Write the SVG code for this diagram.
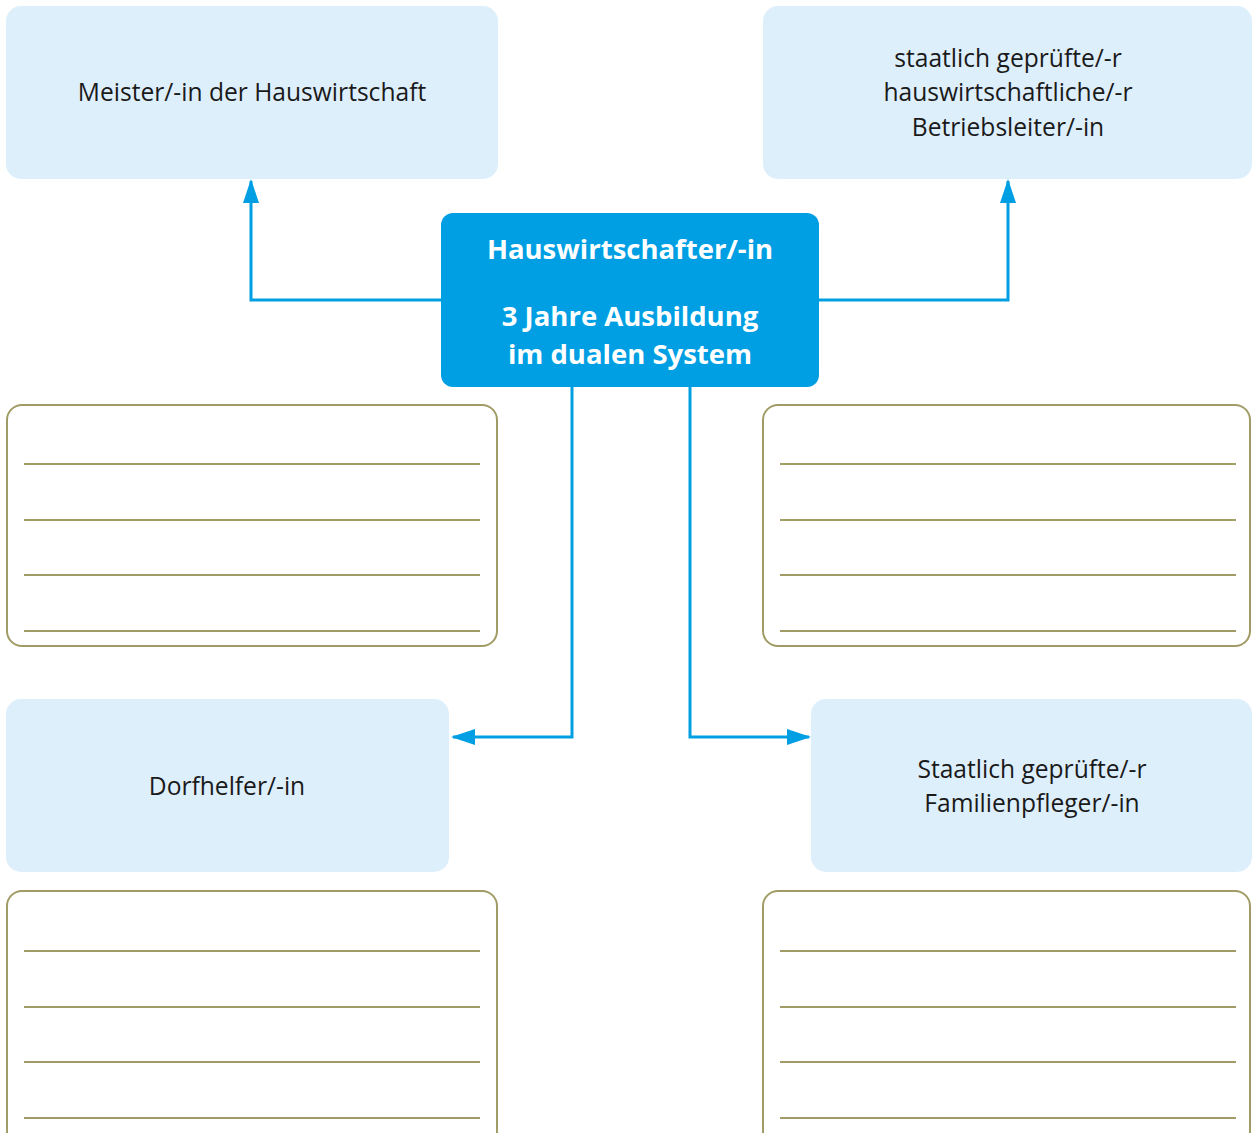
<svg xmlns="http://www.w3.org/2000/svg" width="1252" height="1133" viewBox="0 0 1252 1133">
<style>
.lb{fill:#deeffc}
.lined{fill:#fff;stroke:#a19c66;stroke-width:2}
.rule{stroke:#a19c66;stroke-width:2}
.t{font-family:"Open Sans",sans-serif;font-size:24.6px;fill:#1a1a1a;text-anchor:middle}
.tb{font-family:"Open Sans",sans-serif;font-size:27.5px;font-weight:bold;fill:#fff;text-anchor:middle}
.con{fill:none;stroke:#009fe3;stroke-width:3}
</style>
<defs>
<marker id="ah" viewBox="0 0 24 16" refX="22" refY="8" markerWidth="24" markerHeight="16" markerUnits="userSpaceOnUse" orient="auto">
<path d="M0,0 L24,8 L0,16 Z" fill="#009fe3"/>
</marker>
</defs>
<rect width="1252" height="1133" fill="#fff"/>
<g id="connectors">
<polyline class="con" points="441,300 251,300 251,181" marker-end="url(#ah)"/>
<polyline class="con" points="819,300 1008,300 1008,181" marker-end="url(#ah)"/>
<polyline class="con" points="572,387 572,737 453,737" marker-end="url(#ah)"/>
<polyline class="con" points="690,387 690,737 809,737" marker-end="url(#ah)"/>
</g>
<g id="meister">
<rect class="lb" x="6" y="6" width="492" height="173" rx="15"/>
<text class="t" x="252" y="101">Meister/-in der Hauswirtschaft</text>
</g>
<g id="betriebsleiter">
<rect class="lb" x="763" y="6" width="489" height="173" rx="15"/>
<text class="t" x="1008" y="67">staatlich geprüfte/-r</text>
<text class="t" x="1008" y="101">hauswirtschaftliche/-r</text>
<text class="t" x="1008" y="136">Betriebsleiter/-in</text>
</g>
<g id="center">
<rect x="441" y="213" width="378" height="174" rx="12" fill="#009fe3"/>
<text class="tb" x="630" y="259">Hauswirtschafter/-in</text>
<text class="tb" x="630" y="326">3 Jahre Ausbildung</text>
<text class="tb" x="630" y="364">im dualen System</text>
</g>
<g id="notes-left">
<rect class="lined" x="7" y="405" width="490" height="241" rx="15"/>
<line class="rule" x1="24" y1="464" x2="480" y2="464"/>
<line class="rule" x1="24" y1="520" x2="480" y2="520"/>
<line class="rule" x1="24" y1="575" x2="480" y2="575"/>
<line class="rule" x1="24" y1="631" x2="480" y2="631"/>
</g>
<g id="notes-right">
<rect class="lined" x="763" y="405" width="487" height="241" rx="15"/>
<line class="rule" x1="780" y1="464" x2="1236" y2="464"/>
<line class="rule" x1="780" y1="520" x2="1236" y2="520"/>
<line class="rule" x1="780" y1="575" x2="1236" y2="575"/>
<line class="rule" x1="780" y1="631" x2="1236" y2="631"/>
</g>
<g id="dorfhelfer">
<rect class="lb" x="6" y="699" width="443" height="173" rx="15"/>
<text class="t" x="227" y="795">Dorfhelfer/-in</text>
</g>
<g id="familienpfleger">
<rect class="lb" x="811" y="699" width="441" height="173" rx="15"/>
<text class="t" x="1032" y="778">Staatlich geprüfte/-r</text>
<text class="t" x="1032" y="812">Familienpfleger/-in</text>
</g>
<g id="notes-bottom-left">
<rect class="lined" x="7" y="891" width="490" height="260" rx="15"/>
<line class="rule" x1="24" y1="951" x2="480" y2="951"/>
<line class="rule" x1="24" y1="1007" x2="480" y2="1007"/>
<line class="rule" x1="24" y1="1062" x2="480" y2="1062"/>
<line class="rule" x1="24" y1="1118" x2="480" y2="1118"/>
</g>
<g id="notes-bottom-right">
<rect class="lined" x="763" y="891" width="487" height="260" rx="15"/>
<line class="rule" x1="780" y1="951" x2="1236" y2="951"/>
<line class="rule" x1="780" y1="1007" x2="1236" y2="1007"/>
<line class="rule" x1="780" y1="1062" x2="1236" y2="1062"/>
<line class="rule" x1="780" y1="1118" x2="1236" y2="1118"/>
</g>
</svg>
